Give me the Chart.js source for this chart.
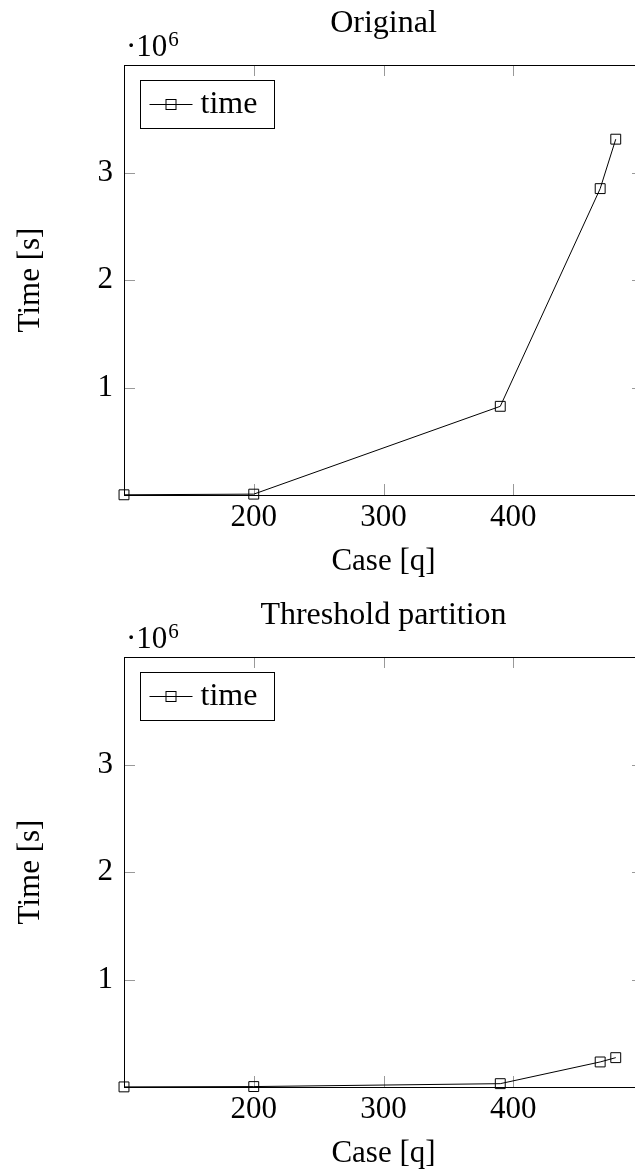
<!DOCTYPE html>
<html>
<head>
<meta charset="utf-8">
<script src="https://cdn.jsdelivr.net/npm/chart.js@4.4.0/dist/chart.umd.min.js"></script>
<style>
  html, body { margin: 0; padding: 0; background: #fff; }
  body { width: 635px; height: 1176px; overflow: hidden; position: relative; }
  canvas { position: absolute; left: 0; }
  #chartOriginal { top: 0; }
  #chartThreshold { top: 592px; }
</style>
</head>
<body>
<canvas id="chartOriginal" width="660" height="592"></canvas>
<canvas id="chartThreshold" width="660" height="592"></canvas>
<script>
// x values (case size q)
const cases = [100, 200, 390, 467, 479];
// run time in seconds
const timeOriginal = [2000, 8000, 825000, 2850000, 3310000];
const timeThreshold = [1000, 4000, 31000, 233000, 273000];
// axis ticks
const xTicks = [100, 200, 300, 400, 500];
const yTicks = [0, 1000000, 2000000, 3000000, 4000000];
const yExponent = 6;

Chart.defaults.font.family = "'Liberation Serif', 'Times New Roman', serif";
Chart.defaults.color = '#000';

const FONT = 31;

// frame, inward ticks, the 10^6 factor and the boxed legend
const pgfLook = {
  id: 'pgfLook',
  beforeDatasetsDraw(chart) {
    const { ctx, chartArea: a, scales } = chart;
    ctx.save();
    ctx.strokeStyle = '#999';
    ctx.lineWidth = 1;
    ctx.beginPath();
    scales.x.ticks.forEach(t => {
      const px = Math.round(scales.x.getPixelForValue(t.value)) + 0.5;
      ctx.moveTo(px, a.bottom); ctx.lineTo(px, a.bottom - 11);
      ctx.moveTo(px, a.top); ctx.lineTo(px, a.top + 11);
    });
    scales.y.ticks.forEach(t => {
      const py = Math.round(scales.y.getPixelForValue(t.value)) + 0.5;
      ctx.moveTo(a.left, py); ctx.lineTo(a.left + 11, py);
      ctx.moveTo(a.right, py); ctx.lineTo(a.right - 11, py);
    });
    ctx.stroke();
    ctx.strokeStyle = '#000';
    ctx.strokeRect(Math.round(a.left) + 0.5, Math.round(a.top) + 0.5,
      Math.round(a.right - a.left), Math.round(a.bottom - a.top));
    ctx.restore();
  },
  afterDraw(chart) {
    const { ctx, chartArea: a } = chart;
    const fam = Chart.defaults.font.family;
    ctx.save();
    ctx.fillStyle = '#000';
    ctx.textBaseline = 'alphabetic';
    ctx.textAlign = 'left';
    // scaled tick factor
    ctx.font = FONT + 'px ' + fam;
    const base = '\u00b710';
    ctx.fillText(base, a.left + 2, a.top - 9);
    const w = ctx.measureText(base).width;
    ctx.font = '21px ' + fam;
    ctx.fillText(String(yExponent), a.left + 2 + w + 1, a.top - 19);

    // legend box
    const ds = chart.data.datasets[0];
    const bx = Math.round(a.left + 16) + 0.5, by = Math.round(a.top + 15) + 0.5;
    const bw = 134, bh = 48;
    ctx.fillStyle = '#fff';
    ctx.fillRect(bx, by, bw, bh);
    ctx.strokeStyle = '#000';
    ctx.lineWidth = 1;
    ctx.strokeRect(bx, by, bw, bh);
    const my = by + bh / 2;
    ctx.beginPath();
    ctx.moveTo(bx + 9, my); ctx.lineTo(bx + 52, my);
    ctx.stroke();
    ctx.strokeRect(bx + 25.5, my - 5, 10, 10);
    ctx.fillStyle = '#000';
    ctx.font = '32px ' + fam;
    ctx.fillText(ds.label, bx + 60, my + 8);
    ctx.restore();
  }
};

function makeChart(id, title, values) {
  const points = cases.map((x, i) => ({ x: x, y: values[i] }));
  return new Chart(document.getElementById(id).getContext('2d'), {
    type: 'line',
    data: {
      datasets: [{
        label: 'time',
        data: points,
        borderColor: '#000',
        borderWidth: 1,
        tension: 0,
        fill: false,
        pointStyle: 'rect',
        pointRadius: 7,
        pointBorderWidth: 1,
        pointBorderColor: '#000',
        pointBackgroundColor: 'rgba(0,0,0,0)',
        clip: false,
      }],
    },
    options: {
      responsive: false,
      animation: false,
      layout: { padding: { left: 0, right: 17, top: 0, bottom: 0 } },
      plugins: {
        legend: { display: false },
        tooltip: { enabled: false },
        title: {
          display: true,
          text: title,
          fullSize: false,
          color: '#000',
          font: { size: 32, weight: 'normal', lineHeight: 1.2 },
          padding: { top: 4, bottom: 22.6 },
        },
      },
      scales: {
        x: {
          type: 'linear',
          min: xTicks[0],
          max: xTicks[xTicks.length - 1],
          afterBuildTicks: sc => { sc.ticks = xTicks.map(v => ({ value: v })); },
          afterFit: sc => { sc.height = 97; },
          grid: { display: false, drawTicks: false },
          border: { display: false },
          ticks: {
            autoSkip: false,
            maxRotation: 0,
            padding: 4,
            font: { size: FONT },
            callback: v => (v === xTicks[0] || v === xTicks[xTicks.length - 1]) ? '' : String(v),
          },
          title: {
            display: true,
            text: 'Case [q]',
            font: { size: FONT, lineHeight: 1.2 },
            padding: { top: 0, bottom: 12 },
          },
        },
        y: {
          type: 'linear',
          min: yTicks[0],
          max: yTicks[yTicks.length - 1],
          afterBuildTicks: sc => { sc.ticks = yTicks.map(v => ({ value: v })); },
          afterFit: sc => { sc.width = 124; },
          grid: { display: false, drawTicks: false },
          border: { display: false },
          ticks: {
            autoSkip: false,
            padding: 11,
            font: { size: FONT },
            callback: v => (v === yTicks[0] || v === yTicks[yTicks.length - 1]) ? '' : String(v / Math.pow(10, yExponent)),
          },
          title: {
            display: true,
            text: 'Time [s]',
            font: { size: FONT, lineHeight: 1.2 },
            padding: { top: 12, bottom: 0 },
          },
        },
      },
    },
    plugins: [pgfLook],
  });
}

makeChart('chartOriginal', 'Original', timeOriginal);
makeChart('chartThreshold', 'Threshold partition', timeThreshold);
</script>
</body>
</html>
